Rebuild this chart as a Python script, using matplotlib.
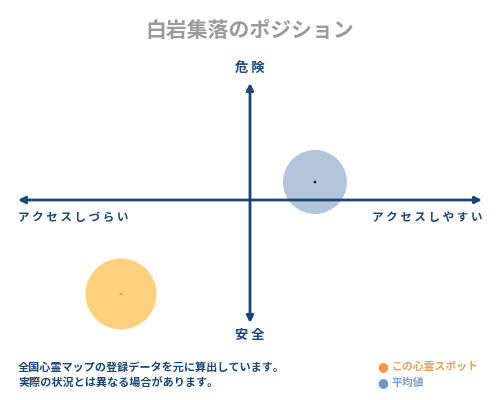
import matplotlib
matplotlib.use('Agg')
import matplotlib.pyplot as plt

plt.rcParams['font.family'] = ['Noto Sans CJK JP', 'DejaVu Sans']

NAVY = '#1b4675'

title = '白岩集落のポジション'
y_top_label = '危険'
y_bottom_label = '安全'
x_left_label = 'アクセスしづらい'
x_right_label = 'アクセスしやすい'
notes = ['全国心霊マップの登録データを元に算出しています。',
         '実際の状況とは異なる場合があります。']
series_names = ['この心霊スポット', '平均値']
series_x = [-0.556, 0.28]
series_y = [-0.783, 0.15]

circle_colors = ['#fdd07c', '#b2c5db']
dot_colors = ['#f0a820', '#222222']
text_colors = ['#e8a05a', '#7d9dbf']
legend_dots = ['#f09a40', '#6f97c0']
circle_sizes = [2610, 2120]


def spaced(s):
    return ' '.join(s)


fig = plt.figure(figsize=(5, 4), dpi=100)
ax = fig.add_axes([18 / 500, 77 / 400, 464 / 500, 240 / 400])
ax.set_xlim(-1, 1)
ax.set_ylim(-1.025, 0.975)
ax.axis('off')

# circles
for x, y, c, d, s in zip(series_x, series_y, circle_colors, dot_colors, circle_sizes):
    ax.scatter([x], [y], s=s, color=c, edgecolors='none', zorder=2, clip_on=False)
    ax.scatter([x], [y], s=4, color=d, edgecolors='none', zorder=4, clip_on=False)

# axes arrows
arrow = dict(arrowstyle='<|-|>', color=NAVY, lw=2.0, mutation_scale=10,
             shrinkA=0, shrinkB=0)
ax.annotate('', xy=(-1, 0), xytext=(1, 0), arrowprops=arrow, zorder=3)
ax.annotate('', xy=(0, -1.025), xytext=(0, 0.975), arrowprops=arrow, zorder=3)

fig.text(0.5, 1 - 30 / 400, title, ha='center', va='center', fontsize=15,
         color='#9a9a9a', fontweight='bold')
fig.text(0.5, 1 - 68 / 400, spaced(y_top_label), ha='center', va='center',
         fontsize=9.5, color=NAVY, fontweight='bold')
fig.text(0.5, 1 - 335 / 400, spaced(y_bottom_label), ha='center', va='center',
         fontsize=9.5, color=NAVY, fontweight='bold')
fig.text(18 / 500, 1 - 217 / 400, spaced(x_left_label), ha='left', va='center',
         fontsize=8.3, color=NAVY, fontweight='bold')
fig.text(482 / 500, 1 - 217 / 400, spaced(x_right_label), ha='right', va='center',
         fontsize=8.3, color=NAVY, fontweight='bold')

for i, line in enumerate(notes):
    fig.text(18 / 500, 1 - (367 + 16 * i) / 400, line, ha='left', va='center',
             fontsize=8, color=NAVY, fontweight='bold')

for i, name in enumerate(series_names):
    yy = 1 - (367 + 16 * i) / 400
    fig.text(383 / 500, yy, '●', ha='center', va='center', fontsize=9,
             color=legend_dots[i], family='DejaVu Sans')
    fig.text(391 / 500, yy, name, ha='left', va='center', fontsize=7.8,
             color=text_colors[i], fontweight='bold')

fig.savefig('out.png', dpi=100, facecolor='white')
